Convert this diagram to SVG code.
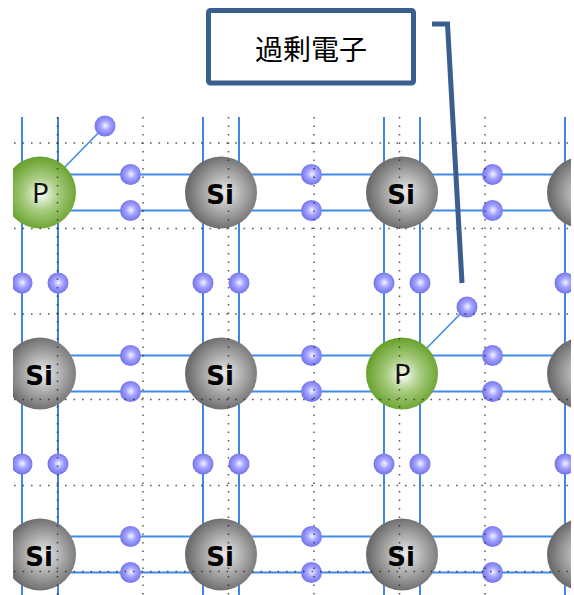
<svg xmlns="http://www.w3.org/2000/svg" width="574" height="595" viewBox="0 0 574 595">
  <style>
    .vbond { stroke: #1f72e0; stroke-width: 1.7; fill: none; }
    .hbond { stroke: #3f8ce6; stroke-width: 2; fill: none; }
    .grid { stroke: #222; stroke-opacity: 0.75; stroke-width: 1.5; stroke-dasharray: 1.6 6.9; fill: none; }
    .si { fill: url(#gSi); }
    .p { fill: url(#gP); }
    .e { fill: url(#gE); }
    .siText { font-family: "DejaVu Sans", "Liberation Sans", sans-serif; font-weight: bold; font-size: 26px; fill: #000; text-anchor: middle; }
    .pText { font-family: "Noto Sans", "Liberation Sans", sans-serif; font-size: 28px; fill: #111; text-anchor: middle; }
    .callout { fill: none; stroke: #3a5f8e; stroke-width: 5; stroke-linejoin: miter; }
    .label { font-family: "Noto Sans CJK JP", "Noto Sans CJK SC", sans-serif; font-size: 28px; fill: #000; text-anchor: middle; }
  </style>
  <defs>
    <radialGradient id="gSi" cx="55%" cy="50%" r="52%">
      <stop offset="0" stop-color="#ececec"/>
      <stop offset="0.5" stop-color="#acacac"/>
      <stop offset="1" stop-color="#6c6c6c"/>
    </radialGradient>
    <radialGradient id="gP" cx="52%" cy="52%" r="52%">
      <stop offset="0" stop-color="#fbfdf8"/>
      <stop offset="0.45" stop-color="#a8cc80"/>
      <stop offset="1" stop-color="#66a02a"/>
    </radialGradient>
    <radialGradient id="gE" cx="52%" cy="48%" r="52%">
      <stop offset="0" stop-color="#f4f4ff"/>
      <stop offset="0.45" stop-color="#a4a4ff"/>
      <stop offset="1" stop-color="#7272ec"/>
    </radialGradient>
    <clipPath id="lattice">
      <rect x="13" y="0" width="558" height="595"/>
    </clipPath>
    <g id="el"><circle r="10.5" class="e"/></g>
  </defs>

  <g clip-path="url(#lattice)">
    <!-- bonds -->
    <g id="connectors">
      <g class="vbond">
        <line x1="22" y1="117" x2="22" y2="595"/>
        <line x1="58" y1="117" x2="58" y2="595"/>
        <line x1="203" y1="117" x2="203" y2="595"/>
        <line x1="239" y1="117" x2="239" y2="595"/>
        <line x1="384" y1="117" x2="384" y2="595"/>
        <line x1="420" y1="117" x2="420" y2="595"/>
        <line x1="565" y1="117" x2="565" y2="595"/>
      </g>
      <g class="hbond">
        <line x1="13" y1="174.5" x2="574" y2="174.5"/>
        <line x1="13" y1="210.5" x2="574" y2="210.5"/>
        <line x1="13" y1="355.5" x2="574" y2="355.5"/>
        <line x1="13" y1="391.5" x2="574" y2="391.5"/>
        <line x1="13" y1="536.5" x2="574" y2="536.5"/>
        <line x1="13" y1="572.5" x2="574" y2="572.5"/>
        <!-- links from each P atom to its spare electron -->
        <line x1="40" y1="192.5" x2="105" y2="126" stroke-width="1.6"/>
        <line x1="402" y1="373.5" x2="467" y2="307" stroke-width="1.6"/>
      </g>
    </g>

    <!-- bonding electrons -->
    <g id="electrons">
      <use href="#el" x="130.5" y="174.5"/><use href="#el" x="130.5" y="210.5"/>
      <use href="#el" x="311.5" y="174.5"/><use href="#el" x="311.5" y="210.5"/>
      <use href="#el" x="492.5" y="174.5"/><use href="#el" x="492.5" y="210.5"/>
      <use href="#el" x="130.5" y="355.5"/><use href="#el" x="130.5" y="391.5"/>
      <use href="#el" x="311.5" y="355.5"/><use href="#el" x="311.5" y="391.5"/>
      <use href="#el" x="492.5" y="355.5"/><use href="#el" x="492.5" y="391.5"/>
      <use href="#el" x="130.5" y="536.5"/><use href="#el" x="130.5" y="572.5"/>
      <use href="#el" x="311.5" y="536.5"/><use href="#el" x="311.5" y="572.5"/>
      <use href="#el" x="492.5" y="536.5"/><use href="#el" x="492.5" y="572.5"/>

      <use href="#el" x="22" y="283"/><use href="#el" x="58" y="283"/>
      <use href="#el" x="203" y="283"/><use href="#el" x="239" y="283"/>
      <use href="#el" x="384" y="283"/><use href="#el" x="420" y="283"/>
      <use href="#el" x="565" y="283"/>
      <use href="#el" x="22" y="464"/><use href="#el" x="58" y="464"/>
      <use href="#el" x="203" y="464"/><use href="#el" x="239" y="464"/>
      <use href="#el" x="384" y="464"/><use href="#el" x="420" y="464"/>
      <use href="#el" x="565" y="464"/>
    </g>
    <g id="excess-electron-1"><use href="#el" x="105" y="126"/></g>
    <g id="excess-electron-2"><use href="#el" x="467" y="307"/></g>

    <!-- atoms -->
    <g id="atom-r1c1"><circle cx="40" cy="192.5" r="36" class="p"/><text x="40.5" y="203" class="pText">P</text></g>
    <g id="atom-r1c2"><circle cx="221" cy="192.5" r="36" class="si"/><text x="220" y="203.5" class="siText">Si</text></g>
    <g id="atom-r1c3"><circle cx="402" cy="192.5" r="36" class="si"/><text x="401" y="203.5" class="siText">Si</text></g>
    <g id="atom-r1c4"><circle cx="583" cy="192.5" r="36" class="si"/></g>

    <g id="atom-r2c1"><circle cx="40" cy="373.5" r="36" class="si"/><text x="39" y="384.5" class="siText">Si</text></g>
    <g id="atom-r2c2"><circle cx="221" cy="373.5" r="36" class="si"/><text x="220" y="384.5" class="siText">Si</text></g>
    <g id="atom-r2c3"><circle cx="402" cy="373.5" r="36" class="p"/><text x="402.5" y="384" class="pText">P</text></g>
    <g id="atom-r2c4"><circle cx="583" cy="373.5" r="36" class="si"/></g>

    <g id="atom-r3c1"><circle cx="40" cy="554.5" r="36" class="si"/><text x="39" y="565.5" class="siText">Si</text></g>
    <g id="atom-r3c2"><circle cx="221" cy="554.5" r="36" class="si"/><text x="220" y="565.5" class="siText">Si</text></g>
    <g id="atom-r3c3"><circle cx="402" cy="554.5" r="36" class="si"/><text x="401" y="565.5" class="siText">Si</text></g>
    <g id="atom-r3c4"><circle cx="583" cy="554.5" r="36" class="si"/></g>

    <!-- dotted guide grid -->
    <g id="guide-grid" class="grid">
      <line x1="57.5" y1="117" x2="57.5" y2="595"/>
      <line x1="143" y1="117" x2="143" y2="595"/>
      <line x1="228.5" y1="117" x2="228.5" y2="595"/>
      <line x1="314" y1="117" x2="314" y2="595"/>
      <line x1="399.5" y1="117" x2="399.5" y2="595"/>
      <line x1="485" y1="117" x2="485" y2="595"/>
      <line x1="14" y1="143" x2="571" y2="143"/>
      <line x1="14" y1="228.5" x2="571" y2="228.5"/>
      <line x1="14" y1="314" x2="571" y2="314"/>
      <line x1="14" y1="399.5" x2="571" y2="399.5"/>
      <line x1="14" y1="485.5" x2="571" y2="485.5"/>
      <line x1="14" y1="571.5" x2="571" y2="571.5"/>
    </g>
  </g>

  <!-- callout -->
  <g id="callout-leader">
    <polyline class="callout" points="432,24 447.5,24 462,283"/>
  </g>
  <g id="callout-box">
    <rect x="208.5" y="10.5" width="205" height="72.5" rx="2" fill="#fff" class="callout"/>
    <text x="311" y="60" class="label">過剰電子</text>
  </g>
</svg>
